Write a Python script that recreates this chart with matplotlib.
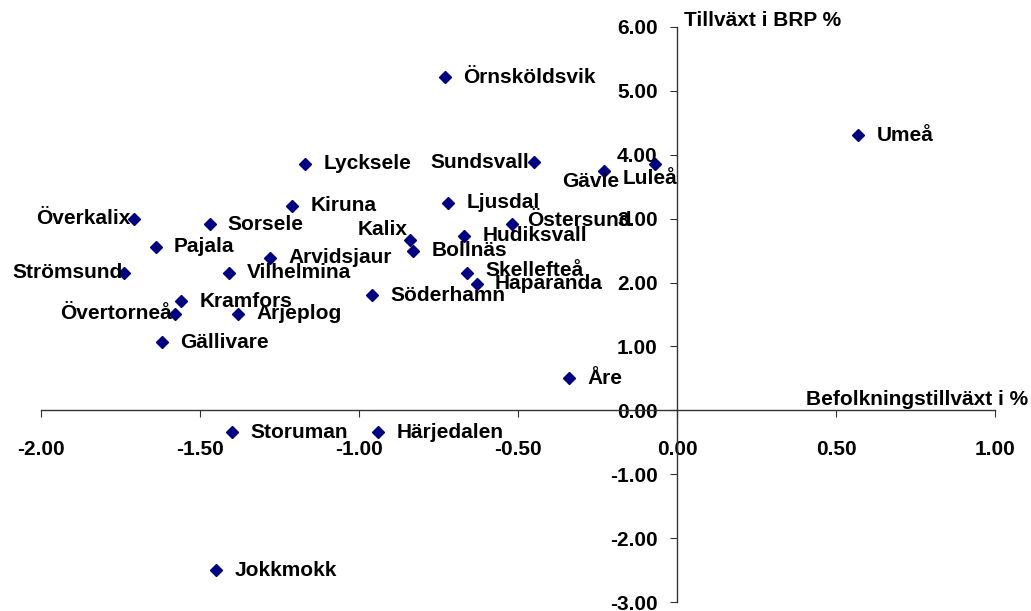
import matplotlib
matplotlib.use('Agg')
import matplotlib.pyplot as plt
from matplotlib.ticker import FormatStrFormatter, MultipleLocator

# kommuner, befolkningstillväxt (%) och tillväxt i BRP (%)
kommuner = ['Örnsköldsvik', 'Umeå', 'Lycksele', 'Sundsvall', 'Gävle', 'Luleå',
            'Kiruna', 'Ljusdal', 'Överkalix', 'Sorsele', 'Östersund', 'Kalix',
            'Hudiksvall', 'Pajala', 'Bollnäs', 'Arvidsjaur', 'Strömsund',
            'Vilhelmina', 'Skellefteå', 'Haparanda', 'Söderhamn', 'Kramfors',
            'Övertorneå', 'Arjeplog', 'Gällivare', 'Åre', 'Storuman',
            'Härjedalen', 'Jokkmokk']
befolkning = [-0.73, 0.57, -1.17, -0.45, -0.23, -0.07,
              -1.21, -0.72, -1.71, -1.47, -0.52, -0.84,
              -0.67, -1.64, -0.83, -1.28, -1.74,
              -1.41, -0.66, -0.63, -0.96, -1.56,
              -1.58, -1.38, -1.62, -0.34, -1.40,
              -0.94, -1.45]
brp = [5.21, 4.30, 3.86, 3.88, 3.75, 3.85,
       3.20, 3.25, 3.00, 2.91, 2.91, 2.66,
       2.73, 2.56, 2.50, 2.39, 2.15,
       2.15, 2.15, 1.98, 1.80, 1.71,
       1.51, 1.51, 1.07, 0.50, -0.34,
       -0.34, -2.50]

# etiketter som inte ligger till höger om punkten: (dx, dy, ha) i pixlar
placering = {
    'Överkalix': (-3, 0, 'right'),
    'Strömsund': (-1, 0, 'right'),
    'Övertorneå': (-3, 0, 'right'),
    'Sundsvall': (-5, 0, 'right'),
    'Kalix': (-2, 11, 'right'),
    'Gävle': (-13, -11, 'center'),
    'Luleå': (-5, -14, 'center'),
    'Östersund': (15, 4, 'left'),
    'Skellefteå': (18, 2, 'left'),
}

plt.rcParams['font.family'] = ['Liberation Sans', 'DejaVu Sans']
plt.rcParams['font.weight'] = 'bold'
fs = 15

fig, ax = plt.subplots(figsize=(10.31, 6.11), dpi=100)
fig.subplots_adjust(left=0.0401, right=0.9651, bottom=0.0142, top=0.9563)

ax.plot(befolkning, brp, linestyle='none', marker='D', markersize=6.4,
        color='#000080', clip_on=False, zorder=3)

for namn, x, y in zip(kommuner, befolkning, brp):
    dx, dy, ha = placering.get(namn, (18, 0, 'left'))
    ax.annotate(namn, (x, y), xytext=(dx, dy), textcoords='offset pixels',
                ha=ha, va='center', fontsize=fs, fontweight='bold',
                annotation_clip=False, zorder=4)

ax.set_xlim(-2, 1)
ax.set_ylim(-3, 6)
ax.spines['left'].set_position(('data', 0))
ax.spines['bottom'].set_position(('data', 0))
ax.spines['top'].set_visible(False)
ax.spines['right'].set_visible(False)
for s in ['left', 'bottom']:
    ax.spines[s].set_color('#333333')
    ax.spines[s].set_linewidth(1)

ax.xaxis.set_major_locator(MultipleLocator(0.5))
ax.yaxis.set_major_locator(MultipleLocator(1))
ax.xaxis.set_major_formatter(FormatStrFormatter('%.2f'))
ax.yaxis.set_major_formatter(FormatStrFormatter('%.2f'))
ax.tick_params(axis='x', direction='out', length=5, pad=16, labelsize=fs, color='#333333')
ax.tick_params(axis='y', direction='out', length=5, pad=9, labelsize=fs, color='#333333')
for lab in ax.get_xticklabels() + ax.get_yticklabels():
    lab.set_fontweight('bold')

ax.annotate('Tillväxt i BRP %', (0, 6), xytext=(7, 6), textcoords='offset pixels',
            ha='left', va='center', fontsize=fs, fontweight='bold', annotation_clip=False)
ax.annotate('Befolkningstillväxt i %', (1, 0), xytext=(33, 11), textcoords='offset pixels',
            ha='right', va='center', fontsize=fs, fontweight='bold', annotation_clip=False)

fig.savefig('out.png', dpi=100)
